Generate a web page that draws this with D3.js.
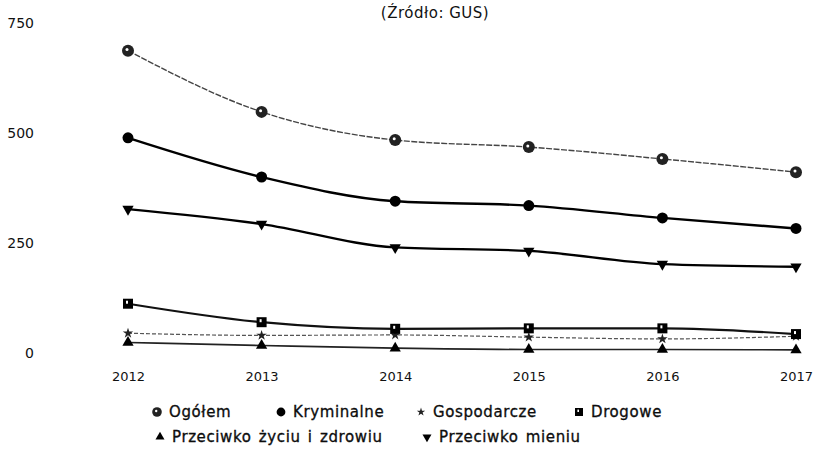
<!DOCTYPE html>
<html>
<head>
<meta charset="utf-8">
<script src="https://cdn.jsdelivr.net/npm/d3@7"></script>
<style>
  body { margin: 0; background: #fff; }
  text { font-family: "DejaVu Sans", sans-serif; fill: #111; }
</style>
</head>
<body>
<div id="chart"></div>
<script>
const years = [2012, 2013, 2014, 2015, 2016, 2017];
const yTicks = [0, 250, 500, 750];

const ogolem = [687, 548, 484, 468, 441, 411];
const kryminalne = [489, 400, 345, 335, 307, 283];
const gospodarcze = [45, 40, 41, 36, 32, 38];
const drogowe = [112, 70, 55, 56, 56, 43];
const zyciu = [24, 17, 11, 8, 8, 7];
const mieniu = [327, 293, 240, 232, 202, 196];

const seriesNames = ["Ogółem", "Kryminalne", "Gospodarcze", "Drogowe", "Przeciwko życiu i zdrowiu", "Przeciwko mieniu"];
const seriesValues = [ogolem, kryminalne, gospodarcze, drogowe, zyciu, mieniu];

const W = 816, H = 473;

const svg = d3.select("#chart")
    .append("svg")
    .attr("width", W)
    .attr("height", H);

const x = d3.scalePoint()
    .domain(years)
    .range([128, 796]);

const y = d3.scaleLinear()
    .domain([0, 750])
    .range([353, 23]);

// line styles per series
const styles = [
    { stroke: "#444", width: 1.4, dash: "6,1.5" },
    { stroke: "#000", width: 2.4, dash: null },
    { stroke: "#555", width: 1.2, dash: "4,2" },
    { stroke: "#111", width: 2.2, dash: null },
    { stroke: "#222", width: 1.6, dash: null },
    { stroke: "#000", width: 2.4, dash: null }
];

// markers
function drawMarker(g, i) {
    if (i === 0) {
        g.append("circle").attr("r", 6).attr("fill", "#222");
        g.append("circle").attr("r", 1.5).attr("cx", -1).attr("cy", -1.2).attr("fill", "#fff");
    } else if (i === 1) {
        g.append("circle").attr("r", 5.5).attr("fill", "#000");
    } else if (i === 2) {
        g.append("path").attr("d", d3.symbol(d3.symbolStar, 34)()).attr("fill", "#222");
    } else if (i === 3) {
        g.append("path").attr("d", d3.symbol(d3.symbolSquare, 100)()).attr("fill", "#000");
        g.append("rect").attr("x", -2).attr("y", -3).attr("width", 2).attr("height", 3).attr("fill", "#fff");
    } else if (i === 4) {
        g.append("path").attr("d", d3.symbol(d3.symbolTriangle, 55)()).attr("fill", "#000");
    } else {
        g.append("path").attr("d", d3.symbol(d3.symbolTriangle, 55)())
            .attr("transform", "rotate(180)").attr("fill", "#000");
    }
}

// y axis labels
svg.append("g")
    .attr("transform", "translate(36,0)")
    .call(d3.axisLeft(y).tickValues(yTicks).tickSize(0).tickPadding(2))
    .call(g => g.select(".domain").remove())
    .selectAll("text")
    .attr("font-size", "14px")
    .attr("font-family", "DejaVu Sans Condensed, sans-serif")
    .attr("fill", "#000");

// x axis labels
svg.append("g")
    .attr("transform", "translate(0,372)")
    .call(d3.axisBottom(x).tickSize(0).tickPadding(0).tickFormat(d3.format("d")))
    .call(g => g.select(".domain").remove())
    .selectAll("text")
    .attr("font-size", "13px")
    .attr("font-family", "DejaVu Sans Condensed, sans-serif")
    .attr("fill", "#000");

svg.append("text")
    .attr("x", 435)
    .attr("y", 18)
    .attr("text-anchor", "middle")
    .attr("font-size", "15px")
    .attr("letter-spacing", "0.5px")
    .attr("fill", "#000")
    .text("(Źródło: GUS)");

const line = d3.line()
    .x((d, i) => x(years[i]))
    .y(d => y(d))
    .curve(d3.curveMonotoneX);

// draw back to front so bold lines sit on top
const order = [2, 0, 4, 3, 5, 1];
order.forEach(i => {
    const st = styles[i];
    svg.append("path")
        .datum(seriesValues[i])
        .attr("fill", "none")
        .attr("stroke", st.stroke)
        .attr("stroke-width", st.width)
        .attr("stroke-dasharray", st.dash)
        .attr("d", line);

    seriesValues[i].forEach((v, j) => {
        const g = svg.append("g")
            .attr("transform", `translate(${x(years[j])},${y(v)})`);
        drawMarker(g, i);
    });
});

// legend
const legendPos = [
    { x: 157, y: 412 }, { x: 281, y: 412 }, { x: 421, y: 412 }, { x: 579, y: 412 },
    { x: 160, y: 437 }, { x: 427, y: 437 }
];

seriesNames.forEach((name, i) => {
    const lg = svg.append("g")
        .attr("transform", `translate(${legendPos[i].x},${legendPos[i].y})`);
    const m = lg.append("g").attr("transform", "scale(0.8)");
    drawMarker(m, i);
    lg.append("text")
        .attr("x", 12)
        .attr("y", 5)
        .attr("font-size", "15px")
        .attr("letter-spacing", "0.6px")
        .attr("word-spacing", "2px")
        .attr("fill", "#000")
        .attr("stroke", "#000")
        .attr("stroke-width", 0.3)
        .text(name);
});
</script>
</body>
</html>
